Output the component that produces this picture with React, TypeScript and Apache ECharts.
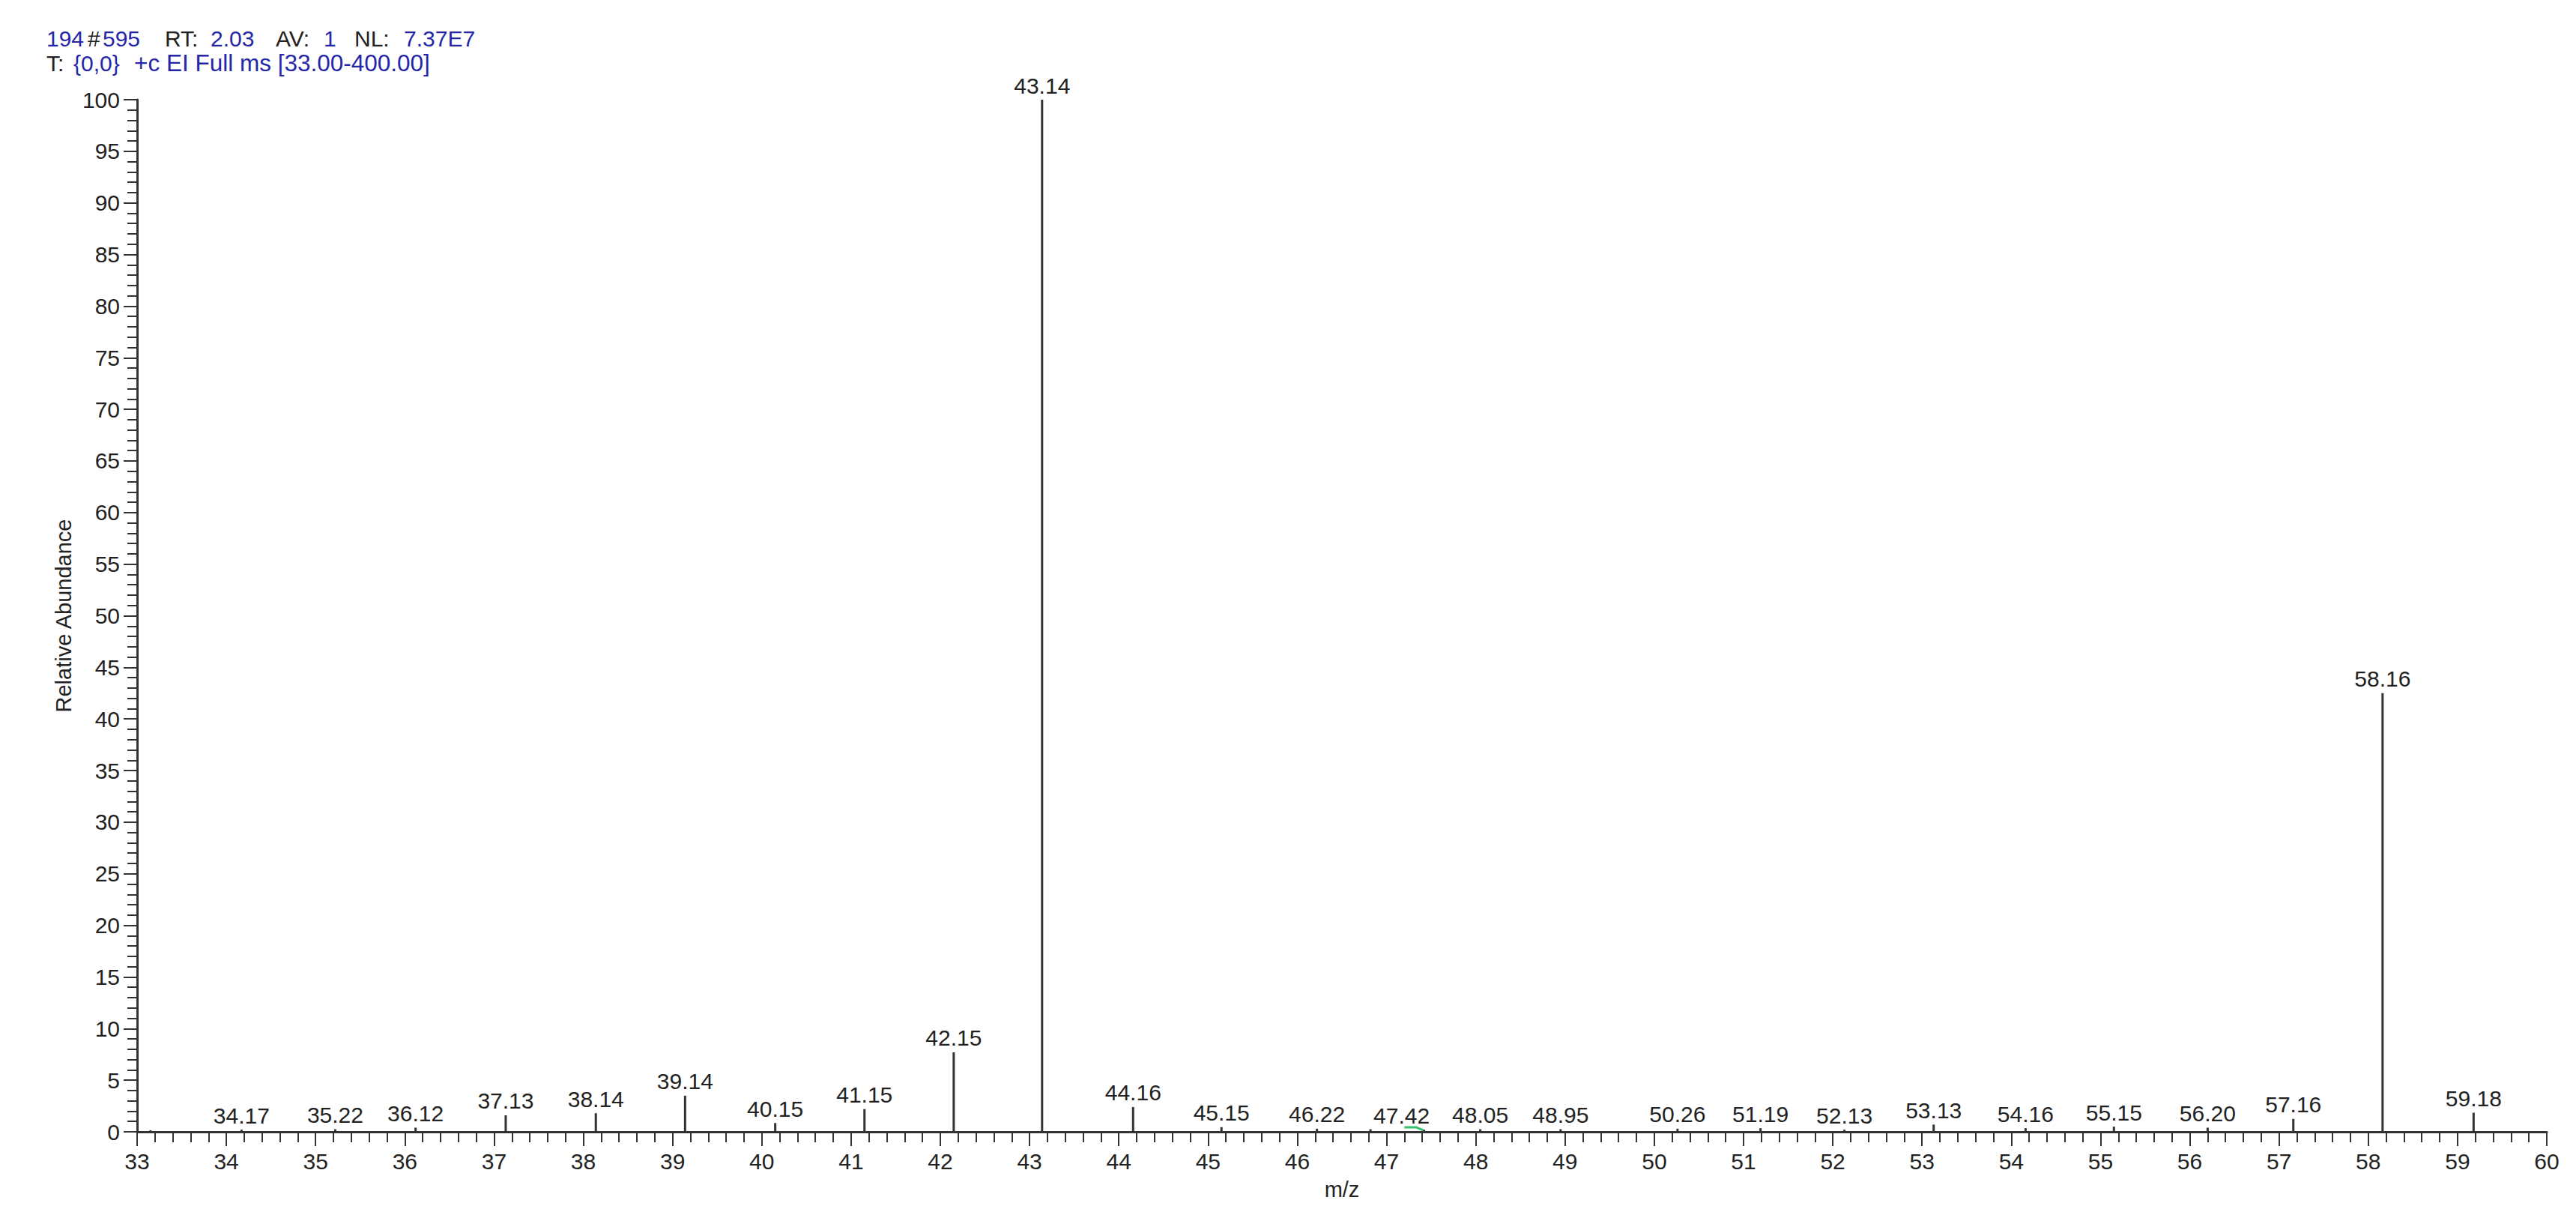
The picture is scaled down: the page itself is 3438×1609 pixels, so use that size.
import React, { useEffect, useRef } from "react";
import * as echarts from "echarts";

// Labelled peaks (m/z) and their relative abundance (%)
const peakMz = [
  34.17, 35.22, 36.12, 37.13, 38.14, 39.14, 40.15, 41.15, 42.15, 43.14, 44.16,
  45.15, 46.22, 47.42, 48.05, 48.95, 50.26, 51.19, 52.13, 53.13, 54.16, 55.15,
  56.2, 57.16, 58.16, 59.18,
];
const peakAbundance = [
  0.2, 0.25, 0.4, 1.6, 1.8, 3.5, 0.85, 2.2, 7.7, 100, 2.4,
  0.45, 0.3, 0.2, 0.25, 0.25, 0.3, 0.35, 0.2, 0.7, 0.35, 0.5,
  0.4, 1.25, 42.5, 1.85,
];
// Small unlabelled peaks
const minorMz = [33.15, 46.82];
const minorAbundance = [0.15, 0.25];
// Short green trace near 47.42
const greenMz = [47.2, 47.33, 47.41];
const greenAbundance = [0.44, 0.44, 0.15];

const xMin = 33;
const xMax = 60;
const yMin = 0;
const yMax = 100;

const FONT = "'Liberation Sans', Arial, Helvetica, sans-serif";
const BLUE = "#2626a8";
const BLACK = "#222";

export default function App() {
  const ref = useRef<HTMLDivElement>(null);

  useEffect(() => {
    if (!ref.current) return;
    const chart = echarts.init(ref.current, null, { renderer: "svg" });

    const barData: any[] = peakMz.map((mz, i) => {
      const item: any = { value: [mz, peakAbundance[i]] };
      if (mz === 47.42) item.label = { offset: [-30, 0] };
      return item;
    });
    minorMz.forEach((mz, i) => {
      barData.push({ value: [mz, minorAbundance[i]], label: { show: false } });
    });

    const hText = (text: string, x: number, y: number, fill: string, size = 30) => ({
      type: "text",
      x,
      y,
      silent: true,
      style: {
        text,
        fill,
        fontSize: size,
        fontFamily: FONT,
        align: "left",
        verticalAlign: "middle",
      },
    });

    chart.setOption({
      animation: false,
      backgroundColor: "#ffffff",
      grid: {
        left: 183,
        right: 39,
        top: 133,
        bottom: 99,
        containLabel: false,
        outerBoundsMode: "none",
      },
      graphic: [
        hText("194", 62, 51, BLUE),
        hText("#", 117, 51, BLACK),
        hText("595", 137, 51, BLUE),
        hText("RT:", 220, 51, BLACK),
        hText("2.03", 281, 51, BLUE),
        hText("AV:", 368, 51, BLACK),
        hText("1", 432, 51, BLUE),
        hText("NL:", 473, 51, BLACK),
        hText("7.37E7", 539, 51, BLUE),
        hText("T:", 62, 84, BLACK),
        hText("{0,0}", 98, 84, BLUE),
        hText("+c EI Full ms [33.00-400.00]", 179, 84, BLUE, 31.5),
      ],
      xAxis: {
        type: "value",
        min: xMin,
        max: xMax,
        interval: 1,
        name: "m/z",
        nameLocation: "middle",
        nameGap: 62,
        nameTextStyle: { fontSize: 29, fontFamily: FONT, color: BLACK },
        axisLine: { show: true, onZero: false, lineStyle: { color: "#333", width: 3 } },
        axisTick: { show: true, length: 19, lineStyle: { color: "#333", width: 2 } },
        minorTick: { show: true, splitNumber: 5, length: 14, lineStyle: { color: "#333", width: 2 } },
        axisLabel: { fontSize: 30, fontFamily: FONT, color: BLACK, margin: 24 },
        splitLine: { show: false },
        minorSplitLine: { show: false },
      },
      yAxis: {
        type: "value",
        min: yMin,
        max: yMax,
        interval: 5,
        name: "Relative Abundance",
        nameLocation: "middle",
        nameGap: 80,
        nameRotate: 90,
        nameTextStyle: { fontSize: 29, fontFamily: FONT, color: BLACK },
        axisLine: { show: true, lineStyle: { color: "#333", width: 3 } },
        axisTick: { show: true, length: 18, lineStyle: { color: "#333", width: 2 } },
        minorTick: { show: true, splitNumber: 5, length: 13, lineStyle: { color: "#333", width: 2 } },
        axisLabel: { fontSize: 30, fontFamily: FONT, color: BLACK, margin: 23 },
        splitLine: { show: false },
        minorSplitLine: { show: false },
      },
      series: [
        {
          type: "bar",
          barWidth: 3,
          data: barData,
          itemStyle: { color: "#333" },
          label: {
            show: true,
            position: "top",
            distance: 4,
            fontSize: 30,
            fontFamily: FONT,
            color: BLACK,
            formatter: (p: any) => Number(p.value[0]).toFixed(2),
          },
          z: 3,
        },
        {
          type: "line",
          data: greenMz.map((mz, i) => [mz, greenAbundance[i]]),
          showSymbol: false,
          symbol: "none",
          lineStyle: { color: "#33c46a", width: 3 },
          z: 4,
        },
      ],
    });

    return () => chart.dispose();
  }, []);

  return (
    <div
      ref={ref}
      style={{ position: "absolute", left: 0, top: 0, width: 3438, height: 1609 }}
    />
  );
}
